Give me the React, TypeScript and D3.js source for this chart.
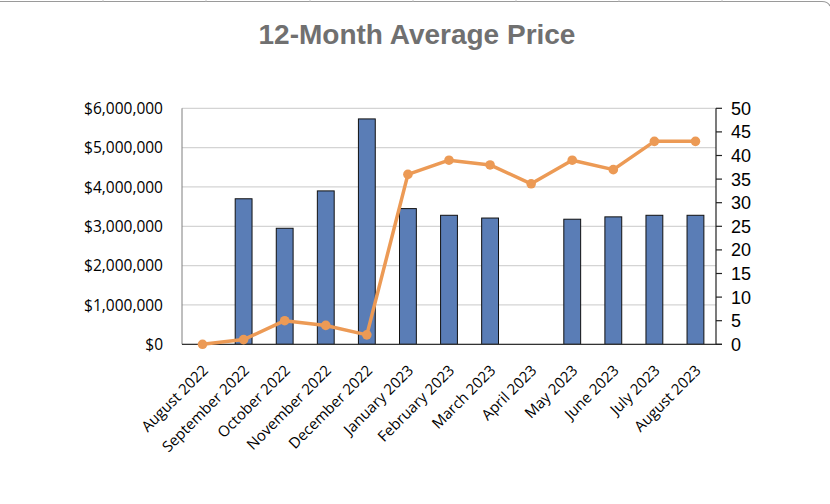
import React from "react";
import * as d3 from "d3";

const months = [
  "August 2022", "September 2022", "October 2022", "November 2022", "December 2022",
  "January 2023", "February 2023", "March 2023", "April 2023", "May 2023",
  "June 2023", "July 2023", "August 2023",
];
const avgPrice = [0, 3700000, 2950000, 3900000, 5730000, 3450000, 3280000, 3210000, 0, 3180000, 3240000, 3280000, 3280000];
const salesCount = [0, 1, 5, 4, 2, 36, 39, 38, 34, 39, 37, 43, 43];
const leftTicks = [0, 1000000, 2000000, 3000000, 4000000, 5000000, 6000000];
const rightTicks = [0, 5, 10, 15, 20, 25, 30, 35, 40, 45, 50];
const title = "12-Month Average Price";

const W = 830, H = 504;
const M = { left: 182, right: 716, top: 108.3, bottom: 344.3 };

export default function App() {
  const x = d3.scaleBand<string>().domain(months).range([M.left, M.right]).padding(0);
  const yL = d3.scaleLinear().domain([0, 6000000]).range([M.bottom, M.top]);
  const yR = d3.scaleLinear().domain([0, 50]).range([M.bottom, M.top]);
  const bw = x.bandwidth() * 0.41;
  const cx = (m: string) => (x(m) as number) + x.bandwidth() / 2;
  const fmt = (v: number) => "$" + d3.format(",")(v);
  const line = d3.line<number>().x((_, i) => cx(months[i])).y((d) => yR(d));

  return (
    <svg width={W} height={H} style={{ position: "absolute", left: 0, top: 0, background: "#fff" }}>
      {/* frame hint at top */}
      <path d={`M0,1.5 L822,1.5 Q828,1.5 830,6`} fill="none" stroke="#9a9a9a" strokeWidth={1.2} />
      {[103, 206, 310, 413, 516, 619, 722].map((t) => (
        <line key={t} x1={t} x2={t} y1={0} y2={1.5} stroke="#c8c8c8" />
      ))}
      <text x={417} y={43.5} textAnchor="middle" fontFamily="'Liberation Sans', Arial, sans-serif"
        fontWeight="bold" fontSize={28} fill="#707070">{title}</text>

      {/* gridlines */}
      {leftTicks.map((t) => (
        <line key={t} x1={M.left} x2={M.right} y1={yL(t)} y2={yL(t)} stroke="#d4d4d4" strokeWidth={1.2} />
      ))}

      {/* bars */}
      {avgPrice.map((v, i) => v > 0 ? (
        <rect key={i} x={cx(months[i]) - bw / 2} y={yL(v)} width={bw} height={yL(0) - yL(v)}
          fill="#5a7db6" stroke="#111" strokeWidth={1} />
      ) : null)}

      {/* axes lines */}
      <line x1={M.left} x2={M.left} y1={M.top} y2={M.bottom} stroke="#7f7f7f" strokeWidth={1} />
      <line x1={M.left} x2={M.right + 6} y1={M.bottom} y2={M.bottom} stroke="#333" strokeWidth={1.2} />
      <line x1={M.right} x2={M.right} y1={M.top} y2={M.bottom} stroke="#222" strokeWidth={1.2} />
      {rightTicks.map((t) => (
        <g key={t}>
          <line x1={M.right} x2={M.right + 6} y1={yR(t)} y2={yR(t)} stroke="#222" strokeWidth={1.2} />
          <text x={M.right + 15} y={yR(t)} dy="0.36em" fontFamily="'Liberation Sans', Arial, sans-serif"
            fontSize={18} fill="#000">{t}</text>
        </g>
      ))}
      {leftTicks.map((t) => (
        <text key={t} x={163} y={yL(t)} dy="0.36em" textAnchor="end"
          fontFamily="'Open Sans', sans-serif" fontSize={15.5} fill="#000">{fmt(t)}</text>
      ))}

      {/* line */}
      <path d={line(salesCount) as string} fill="none" stroke="#ec9a55" strokeWidth={3.5} strokeLinejoin="round" />
      {salesCount.map((v, i) => (
        <circle key={i} cx={cx(months[i])} cy={yR(v)} r={4.8} fill="#ec9a55" />
      ))}

      {/* x labels */}
      {months.map((m) => (
        <text key={m} transform={`translate(${cx(m) - 1},${364}) rotate(-45)`} textAnchor="end"
          dy="0.7em" fontFamily="'Open Sans', sans-serif" fontSize={15} fill="#000">{m}</text>
      ))}
    </svg>
  );
}
